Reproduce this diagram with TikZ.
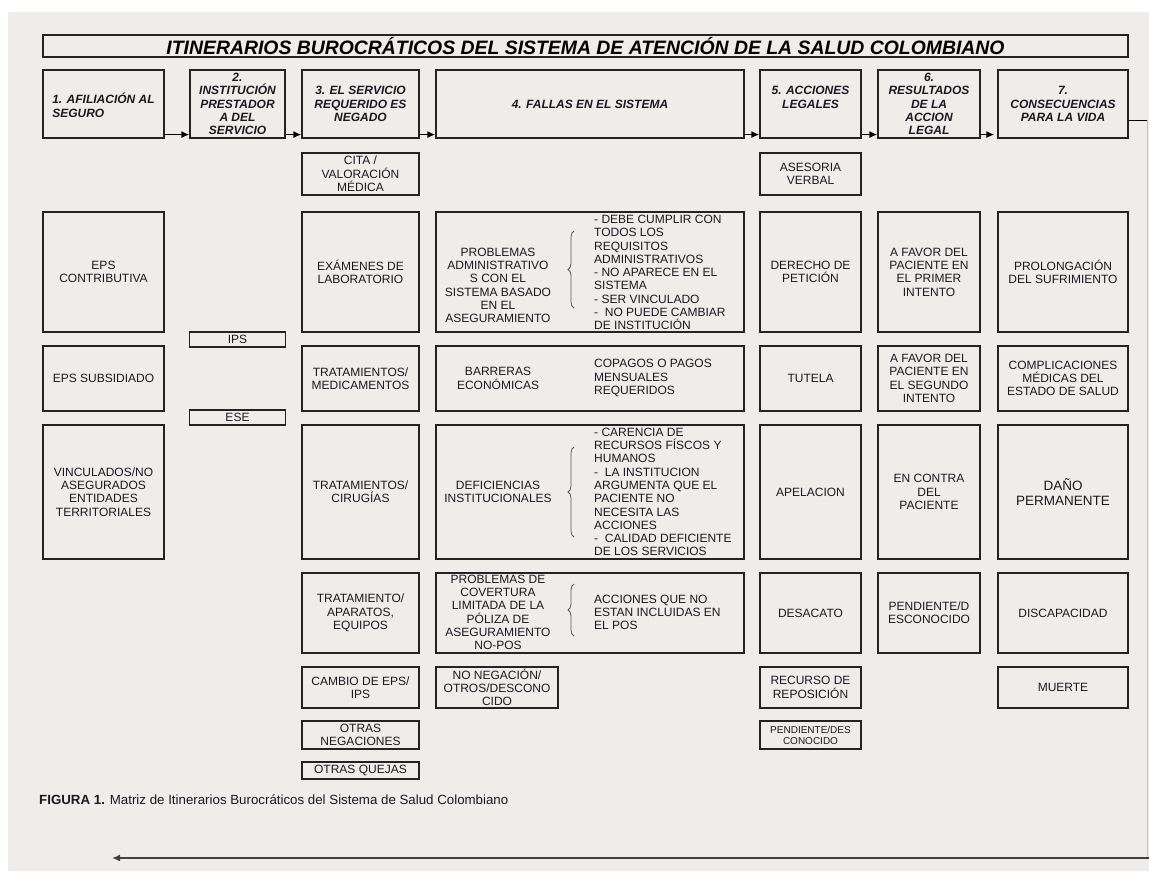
\documentclass[tikz,border=0pt]{standalone}
\usepackage{fontspec}
\setmainfont{Liberation Sans}
\usetikzlibrary{arrows.meta,decorations.pathreplacing}
\definecolor{bg}{RGB}{240,236,233}
\definecolor{linec}{RGB}{35,35,35}
\definecolor{txt}{RGB}{25,25,32}
\begin{document}
\begin{tikzpicture}[x=1pt,y=-1pt,
  sz/.style 2 args={minimum width=#1, minimum height=#2},
  box/.style={draw=linec, line width=1.15pt, align=center, inner sep=0pt, text=txt,
    font=\fontsize{12}{13.3}\selectfont},
  hdr/.style={box, font=\fontsize{12}{13.3}\selectfont\bfseries\itshape},
  txtn/.style={inner sep=0pt, text=txt, font=\fontsize{12}{13.3}\selectfont},
  harr/.style={-{Latex[length=8pt,width=7pt]}, line width=1.7pt, draw=black},
  brc/.style={decorate, decoration={brace, amplitude=6pt}, draw=black!65, line width=0.8pt},
]
\useasboundingbox (0,0) rectangle (1149,871);
\fill[white] (0,0) rectangle (1149,871);
\fill[bg] (8,12) rectangle (1149,871);

% title
\node[box, sz={1085}{22}, text=black, font=\fontsize{19.4}{22}\selectfont\bfseries\itshape] (title) at (585.5,46)
  {ITINERARIOS BUROCRÁTICOS DEL SISTEMA DE ATENCIÓN DE LA SALUD COLOMBIANO};

% headers
\node[hdr, sz={121}{68}, align=left] (h1) at (103.5,104) {\mbox{}\\1. AFILIACIÓN AL\\SEGURO};
\node[hdr, sz={95}{68}] (h2) at (237.5,104) {2.\\INSTITUCIÓN\\PRESTADOR\\A DEL\\SERVICIO};
\node[hdr, sz={117}{68}] (h3) at (360.5,104) {3. EL SERVICIO\\REQUERIDO ES\\NEGADO};
\node[hdr, sz={308}{68}] (h4) at (590,104) {4. FALLAS EN EL SISTEMA};
\node[hdr, sz={101}{68}] (h5) at (810.5,104) {5. ACCIONES\\LEGALES\\\mbox{}};
\node[hdr, sz={102}{68}] (h6) at (929,104) {6.\\RESULTADOS\\DE LA\\ACCION\\LEGAL};
\node[hdr, sz={130}{68}] (h7) at (1063,104) {7.\\CONSECUENCIAS\\PARA LA VIDA};

\draw[harr] ([yshift=4pt]h1.south east) -- ([yshift=4pt]h2.south west);
\draw[harr] ([yshift=4pt]h2.south east) -- ([yshift=4pt]h3.south west);
\draw[harr] ([yshift=4pt]h3.south east) -- ([yshift=4pt]h4.south west);
\draw[harr] ([yshift=4pt]h4.south east) -- ([yshift=4pt]h5.south west);
\draw[harr] ([yshift=4pt]h5.south east) -- ([yshift=4pt]h6.south west);
\draw[harr] ([yshift=4pt]h6.south east) -- ([xshift=-3pt,yshift=4pt]h7.south west);

% return line
\coordinate (ra) at (1147.5,120);
\coordinate (rb) at (1147.5,858);
\coordinate (rc) at (1149,858);
\coordinate (rd) at (112,858);
\draw[line width=0.8pt, draw=black] ([yshift=-16pt]h7.east) -- (ra);
\draw[line width=0.6pt, draw=black!25] (ra) -- (rb);
\draw[line width=2pt, draw=black!75, -{Latex[length=8pt,width=7pt]}] (rc) -- (rd);

% column 1
\node[box, sz={121}{120}] (e1) at (103.5,272) {EPS\\CONTRIBUTIVA};
\node[box, sz={121}{65}] (e2) at (103.5,378.5) {EPS SUBSIDIADO};
\node[box, sz={121}{134}] (e3) at (103.5,492) {VINCULADOS/NO\\ASEGURADOS\\ENTIDADES\\TERRITORIALES};

% column 2
\node[box, sz={96}{15}] (ips) at (237.5,339.5) {IPS};
\node[box, sz={96}{15}] (ese) at (237.5,417.5) {ESE};

% column 3
\node[box, sz={117}{42}] (s0) at (360.5,174) {CITA /\\VALORACIÓN\\MÉDICA};
\node[box, sz={117}{120}] (s1) at (360.5,272) {EXÁMENES DE\\LABORATORIO};
\node[box, sz={117}{65}] (s2) at (360.5,378.5) {TRATAMIENTOS/\\MEDICAMENTOS};
\node[box, sz={117}{134}] (s3) at (360.5,492) {TRATAMIENTOS/\\CIRUGÍAS};
\node[box, sz={117}{80}] (s4) at (360.5,613) {TRATAMIENTO/\\APARATOS,\\EQUIPOS};
\node[box, sz={117}{41}] (s5) at (360.5,687.5) {CAMBIO DE EPS/\\IPS};
\node[box, sz={117}{28}] (s6) at (360.5,735) {OTRAS\\NEGACIONES};
\node[box, sz={117}{17}] (s7) at (360.5,770.5) {OTRAS QUEJAS};

% column 4
\node[box, sz={308}{120}] (f1) at (590,272) {};
\node[box, sz={308}{65}] (f2) at (590,378.5) {};
\node[box, sz={308}{134}] (f3) at (590,492) {};
\node[box, sz={308}{80}] (f4) at (590,613) {};
\node[box, sz={122}{41}] (f5) at (497,687.5) {NO NEGACIÓN/\\OTROS/DESCONO\\CIDO};

\node[txtn, align=center] (f1l) at (498,285.5) {PROBLEMAS\\ADMINISTRATIVO\\S CON EL\\SISTEMA BASADO\\EN EL\\ASEGURAMIENTO};
\node[txtn, align=left, anchor=west] (f1r) at (594,272.5) {- DEBE CUMPLIR CON\\TODOS LOS\\REQUISITOS\\ADMINISTRATIVOS\\- NO APARECE EN EL\\SISTEMA\\- SER VINCULADO\\-~ NO PUEDE CAMBIAR\\DE INSTITUCIÓN};
\draw[brc] (574,308) -- (574,231);

\node[txtn, align=center] (f2l) at (498,378.5) {BARRERAS\\ECONÓMICAS};
\node[txtn, align=left, anchor=west] (f2r) at (594,378) {COPAGOS O PAGOS\\MENSUALES\\REQUERIDOS};

\node[txtn, align=center] (f3l) at (498,492) {DEFICIENCIAS\\INSTITUCIONALES};
\node[txtn, align=left, anchor=west] (f3r) at (594,492) {- CARENCIA DE\\RECURSOS FÍSCOS Y\\HUMANOS\\-~ LA INSTITUCION\\ARGUMENTA QUE EL\\PACIENTE NO\\NECESITA LAS\\ACCIONES\\-~ CALIDAD DEFICIENTE\\DE LOS SERVICIOS};
\draw[brc] (574,537) -- (574,447);

\node[txtn, align=center] (f4l) at (498,612.5) {PROBLEMAS DE\\COVERTURA\\LIMITADA DE LA\\PÓLIZA DE\\ASEGURAMIENTO\\NO-POS};
\node[txtn, align=left, anchor=west] (f4r) at (594,612.5) {ACCIONES QUE NO\\ESTAN INCLUIDAS EN\\EL POS};
\draw[brc] (574,636) -- (574,584);

% column 5
\node[box, sz={101}{42}] (a0) at (810.5,174) {ASESORIA\\VERBAL};
\node[box, sz={101}{120}] (a1) at (810.5,272) {DERECHO DE\\PETICIÓN};
\node[box, sz={101}{65}] (a2) at (810.5,378.5) {TUTELA};
\node[box, sz={101}{134}] (a3) at (810.5,492) {APELACION};
\node[box, sz={101}{80}] (a4) at (810.5,613) {DESACATO};
\node[box, sz={101}{41}] (a5) at (810.5,687.5) {RECURSO DE\\REPOSICIÓN};
\node[box, sz={101}{28}, font=\fontsize{10}{11}\selectfont] (a6) at (810.5,735) {PENDIENTE/DES\\CONOCIDO};

% column 6
\node[box, sz={102}{120}] (r1) at (929,272) {A FAVOR DEL\\PACIENTE EN\\EL PRIMER\\INTENTO};
\node[box, sz={102}{65}] (r2) at (929,378.5) {A FAVOR DEL\\PACIENTE EN\\EL SEGUNDO\\INTENTO};
\node[box, sz={102}{134}] (r3) at (929,492) {EN CONTRA\\DEL\\PACIENTE};
\node[box, sz={102}{80}] (r4) at (929,613) {PENDIENTE/D\\ESCONOCIDO};

% column 7
\node[box, sz={130}{120}] (c1) at (1063,272) {PROLONGACIÓN\\DEL SUFRIMIENTO};
\node[box, sz={130}{65}] (c2) at (1063,378.5) {COMPLICACIONES\\MÉDICAS DEL\\ESTADO DE SALUD};
\node[box, sz={130}{134}, font=\fontsize{13.5}{14.5}\selectfont] (c3) at (1063,492) {DAÑO\\PERMANENTE};
\node[box, sz={130}{80}] (c4) at (1063,613) {DISCAPACIDAD};
\node[box, sz={130}{41}] (c5) at (1063,687.5) {MUERTE};

% caption
\node[txtn, anchor=west, font=\fontsize{13.3}{15}\selectfont] (cap) at (39,800)
  {\textbf{FIGURA 1.} Matriz de Itinerarios Burocráticos del Sistema de Salud Colombiano};
\end{tikzpicture}
\end{document}
